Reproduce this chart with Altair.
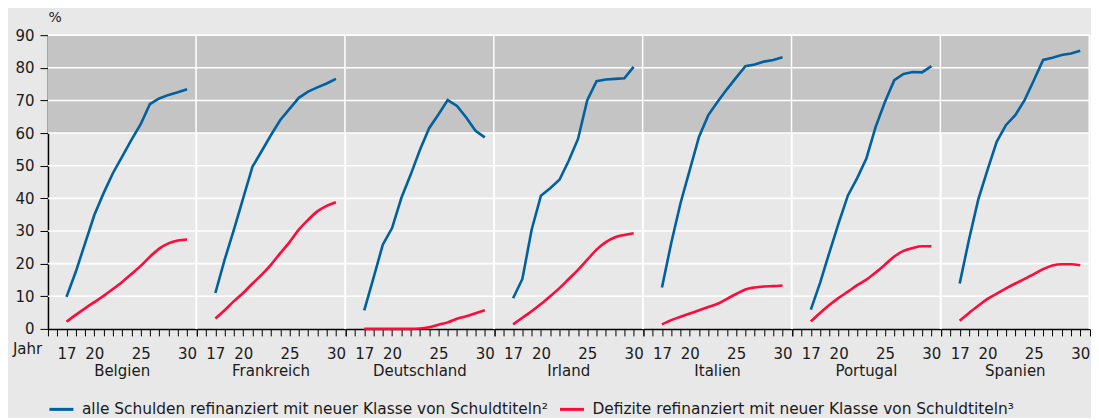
import altair as alt
import pandas as pd

countries = ["Belgien", "Frankreich", "Deutschland", "Irland", "Italien", "Portugal", "Spanien"]
years = list(range(17, 31))

series_all = "alle Schulden refinanziert mit neuer Klasse von Schuldtiteln²"
series_def = "Defizite refinanziert mit neuer Klasse von Schuldtiteln³"

alle = {
    "Belgien":     [9.8, 17.5, 26.2, 34.9, 41.6, 47.7, 52.8, 57.9, 62.7, 68.9, 70.6, 71.7, 72.5, 73.4],
    "Frankreich":  [11.0, 21.2, 30.4, 40.1, 49.7, 54.5, 59.4, 64.0, 67.4, 70.8, 72.7, 74.0, 75.2, 76.6],
    "Deutschland": [5.7, 15.6, 25.8, 30.9, 40.1, 47.2, 54.8, 61.5, 65.7, 70.1, 68.3, 64.8, 60.7, 58.7],
    "Irland":      [9.4, 15.3, 30.4, 40.8, 43.1, 45.7, 51.5, 58.2, 70.1, 75.9, 76.4, 76.6, 76.8, 80.3],
    "Italien":     [12.7, 26.3, 38.5, 48.7, 58.9, 65.5, 69.6, 73.4, 77.0, 80.5, 81.0, 81.9, 82.4, 83.2],
    "Portugal":    [5.9, 14.1, 23.4, 32.4, 40.9, 46.2, 52.3, 62.0, 69.6, 76.2, 78.1, 78.7, 78.6, 80.5],
    "Spanien":     [13.9, 27.3, 39.6, 48.7, 57.4, 62.5, 65.5, 70.1, 76.2, 82.4, 83.1, 83.9, 84.4, 85.2],
}
defizite = {
    "Belgien":     [2.2, 4.3, 6.3, 8.2, 10.1, 12.2, 14.4, 16.8, 19.3, 22.1, 24.6, 26.2, 27.1, 27.4],
    "Frankreich":  [3.2, 5.7, 8.5, 11.0, 13.9, 16.6, 19.7, 23.2, 26.6, 30.4, 33.4, 36.0, 37.7, 38.8],
    "Deutschland": [0.0, 0.0, 0.0, 0.0, 0.0, 0.0, 0.1, 0.5, 1.3, 2.0, 3.1, 3.9, 4.8, 5.7],
    "Irland":      [1.4, 3.4, 5.4, 7.6, 10.0, 12.5, 15.3, 18.1, 21.2, 24.3, 26.6, 28.1, 28.8, 29.3],
    "Italien":     [1.4, 2.7, 3.7, 4.7, 5.7, 6.7, 7.7, 9.2, 10.7, 12.1, 12.7, 13.0, 13.1, 13.3],
    "Portugal":    [2.3, 4.9, 7.3, 9.5, 11.4, 13.4, 15.1, 17.3, 19.7, 22.2, 23.9, 24.8, 25.3, 25.3],
    "Spanien":     [2.5, 4.9, 7.1, 9.2, 10.8, 12.4, 13.9, 15.3, 16.8, 18.3, 19.4, 19.8, 19.8, 19.5],
}

x_ticks = list(range(15, 32))
y_ticks = list(range(0, 100, 10))

rows = []
for c in countries:
    for y, v in zip(years, alle[c]):
        rows.append({"country": c, "year": y, "series": series_all, "value": v})
    for y, v in zip(years, defizite[c]):
        rows.append({"country": c, "year": y, "series": series_def, "value": v})
df = pd.DataFrame(rows)

FONT = "DejaVu Sans"
TXT = "#1a1a1a"
BLUE = "#0061a0"
RED = "#ff0a3a"
W, H = 148.5, 294

xscale = alt.Scale(domain=[15, 31], nice=False, zero=False)
yscale = alt.Scale(domain=[0, 90], nice=False)

xaxis = alt.Axis(values=x_ticks, title=None, grid=False,
                 labelExpr="indexof([17,20,25,30], datum.value) >= 0 ? datum.label : ''",
                 tickSize=7, tickColor="black", tickWidth=1,
                 domainColor="black", domainWidth=1.5,
                 labelFont=FONT, labelFontSize=15, labelColor=TXT,
                 labelPadding=10.5, labelOverlap=False, labelFlush=False)
yaxis = alt.Axis(values=y_ticks, title="%", grid=False,
                 tickSize=8, tickColor="black", tickWidth=1,
                 domainColor="black", domainWidth=1.5,
                 labelFont=FONT, labelFontSize=15, labelColor=TXT, labelPadding=6,
                 titleAngle=0, titleAlign="left", titleBaseline="alphabetic",
                 titleX=0, titleY=-14, titleFont=FONT, titleFontSize=14,
                 titleFontWeight="normal", titleColor=TXT)

color = alt.Color("series:N",
                  scale=alt.Scale(domain=[series_all, series_def], range=[BLUE, RED]),
                  legend=alt.Legend(title=None, orient="none", legendX=0, legendY=361,
                                    direction="horizontal", symbolType="M-1,0L1,0",
                                    symbolStrokeWidth=3, symbolSize=576,
                                    labelFont=FONT, labelFontSize=15.4, labelColor=TXT,
                                    labelLimit=0, columnPadding=5, labelOffset=7))

per_panel = alt.Chart().transform_aggregate(n="count()", groupby=["country"])

band = per_panel.mark_rect(color="#c4c4c4").encode(
    x=alt.X(datum=15, type="quantitative", scale=xscale, axis=xaxis),
    x2=alt.datum(31),
    y=alt.Y(datum=60, type="quantitative", scale=yscale, axis=yaxis),
    y2=alt.datum(90),
)

grid = per_panel.transform_calculate(g="sequence(10, 100, 10)").transform_flatten(["g"]).mark_rule(
    color="white", strokeWidth=1.6).encode(
    y=alt.Y("g:Q", scale=yscale, axis=yaxis),
)

sep = per_panel.mark_rule(color="white", strokeWidth=2).encode(
    x=alt.X(datum=31, type="quantitative", scale=xscale, axis=xaxis),
)

line_all = alt.Chart().transform_filter(alt.datum.series == series_all).mark_line(
    strokeWidth=2.6, interpolate="linear").encode(
    x=alt.X("year:Q", scale=xscale, axis=xaxis),
    y=alt.Y("value:Q", scale=yscale, axis=yaxis),
    color=color,
)
line_def = alt.Chart().transform_filter(alt.datum.series == series_def).mark_line(
    strokeWidth=2.6, interpolate="monotone").encode(
    x=alt.X("year:Q", scale=xscale, axis=xaxis),
    y=alt.Y("value:Q", scale=yscale, axis=yaxis),
    color=color,
)

layers = alt.layer(band, grid, sep, line_all, line_def, data=df).properties(width=W, height=H)

chart = layers.facet(
    column=alt.Column("country:N", sort=countries, title=None,
                      header=alt.Header(labelOrient="bottom", labelFont=FONT, labelFontSize=15,
                                        labelColor=TXT, labelPadding=3)),
    spacing=0,
    bounds="flush",
).properties(
    title=alt.TitleParams(text="Jahr", orient="top", anchor="start", frame="bounds",
                          align="left", baseline="alphabetic", offset=0, dx=-2, dy=359,
                          font=FONT, fontSize=15, fontWeight="normal", color=TXT),
    padding={"left": 4, "top": 2, "right": 0, "bottom": 0},
).configure(background="#e8e8e8").configure_view(stroke="transparent")

chart.save("out.html", embed_options={"renderer": "svg", "actions": False})
